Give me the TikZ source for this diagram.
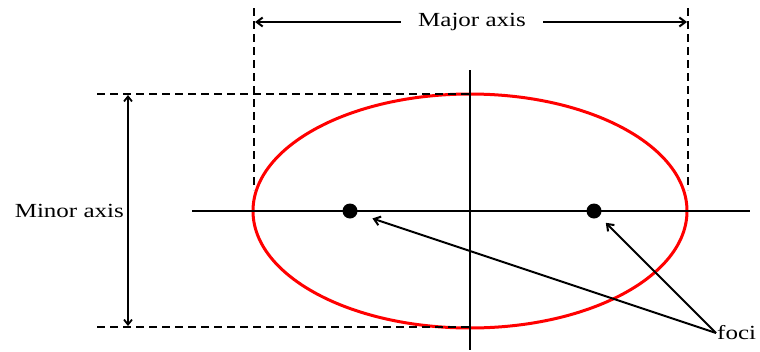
\documentclass[tikz,border=0pt]{standalone}
\usepackage{fontspec}
\usepackage{tikz}
\usetikzlibrary{arrows.meta, positioning}
\newfontfamily\lblfont[FakeStretch=1.25]{Liberation Serif}

\begin{document}
\begin{tikzpicture}[x=1pt, y=-1pt,
      axis/.style={line width=2.2pt, draw=black},
      guide/.style={line width=1.8pt, dash pattern=on 8pt off 5pt},
      dim/.style={{Straight Barb[length=5pt, width=8pt]}-{Straight Barb[length=5pt, width=8pt]}, line width=1.8pt},
      pointer/.style={-{Straight Barb[length=6pt, width=9pt]}, line width=2pt},
      focus/.style={circle, fill=black, inner sep=0pt, minimum size=15pt},
      lbl/.style={font=\lblfont\fontsize{20}{22}\selectfont, inner sep=1pt}
    ]
    \useasboundingbox (0,0) rectangle (760,351);

    % ellipse and its axes
    \coordinate (centre) at (470,211);
    \draw[red, line width=3pt] (centre) ellipse [x radius=217, y radius=117];
    \draw[axis] (192,211) coordinate (axL) -- (750,211) coordinate (axR);
    \draw[axis] (470,70) coordinate (axT) -- (470,350) coordinate (axB);

    \node[focus] (f1) at (350,211) {};
    \node[focus] (f2) at (594,211) {};

    % guide lines
    \coordinate (eL) at (254,190);
    \coordinate (eR) at (688,190);
    \coordinate (eT) at (470,94);
    \coordinate (eB) at (470,327);
    \draw[guide] (254,8) -- (eL);
    \draw[guide] (688,8) -- (eR);
    \draw[guide] (97,94) -- (eT);
    \draw[guide] (97,327) -- (eB);

    % major axis
    \node[lbl, inner xsep=17pt] (major) at (472,22) {Major axis};
    \coordinate (majL) at (255,22);
    \coordinate (majR) at (687,22);
    \draw[pointer] (major) -- (majL);
    \draw[pointer] (major) -- (majR);

    % minor axis
    \coordinate (minT) at (128,95);
    \coordinate (minB) at (128,326);
    \draw[dim] (minT) -- (minB);
    \node[lbl, anchor=east] (minor) at (125,211) {Minor axis};

    % foci
    \node[lbl, anchor=west] (foci) at (716,333) {foci};
    \draw[pointer, shorten >=16pt] (foci.west) -- (f1);
    \draw[pointer, shorten >=9pt] (foci.west) -- (f2);
  \end{tikzpicture}
\end{document}
